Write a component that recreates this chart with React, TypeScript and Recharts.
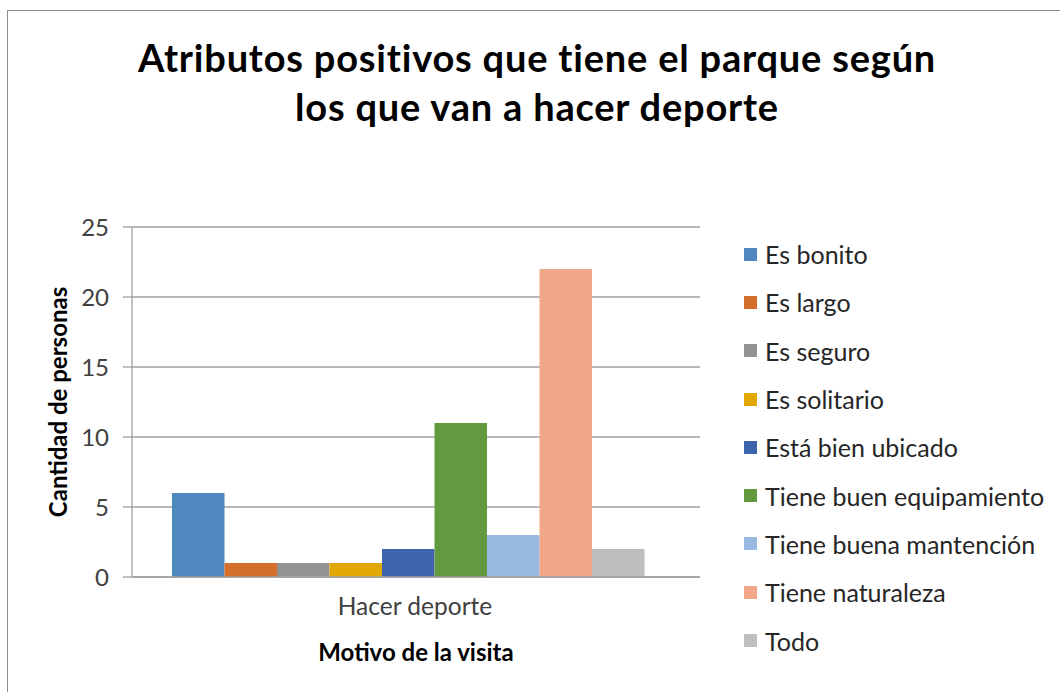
import React from "react";
import { BarChart, Bar, XAxis, YAxis, CartesianGrid, Legend, Label } from "recharts";

const categories = ["Hacer deporte"];
const seriesNames = [
  "Es bonito",
  "Es largo",
  "Es seguro",
  "Es solitario",
  "Está bien ubicado",
  "Tiene buen equipamiento",
  "Tiene buena mantención",
  "Tiene naturaleza",
  "Todo",
];
const seriesValues = [6, 1, 1, 1, 2, 11, 3, 22, 2];
const seriesColors = [
  "#4F88BE",
  "#D46E2B",
  "#929292",
  "#E0A800",
  "#3E64AC",
  "#649A3F",
  "#99B9E0",
  "#F0A889",
  "#BEBEBE",
];
const yTicks = [0, 5, 10, 15, 20, 25];

const data = categories.map((c) => {
  const row: Record<string, string | number> = { name: c };
  seriesNames.forEach((s, i) => {
    row[s] = seriesValues[i];
  });
  return row;
});

const FONT = "Lato, 'Open Sans', sans-serif";

const renderLegend = (props: any) => {
  const { payload } = props;
  return (
    <div style={{ width: 320, fontFamily: FONT }}>
      {payload.map((entry: any) => (
        <div
          key={entry.value}
          style={{ display: "flex", alignItems: "center", height: 48.3, fontSize: 25, color: "#262626" }}
        >
          <span
            style={{ display: "inline-block", width: 13, height: 13, background: entry.color, marginRight: 8 }}
          />
          <span>{entry.value}</span>
        </div>
      ))}
    </div>
  );
};

export default function App() {
  return (
    <div
      style={{
        position: "absolute",
        left: 0,
        top: 0,
        width: 1060,
        height: 692,
        overflow: "hidden",
        background: "#fff",
        fontFamily: FONT,
      }}
    >
      <div
        style={{
          position: "absolute",
          left: 7,
          top: 10,
          width: 1100,
          height: 800,
          border: "1px solid #8c8c8c",
        }}
      />
      <div
        style={{
          position: "absolute",
          left: 0,
          top: 33,
          width: 1074,
          textAlign: "center",
          fontWeight: 700,
          fontSize: 38,
          letterSpacing: 0.8,
          lineHeight: "49px",
          color: "#000",
        }}
      >
        Atributos positivos que tiene el parque según
        <br />
        los que van a hacer deporte
      </div>
      <div style={{ position: "absolute", left: 0, top: 0 }}>
        <BarChart
          width={1060}
          height={692}
          data={data}
          margin={{ top: 227, right: 40, bottom: 55, left: 40 }}
          barSize={52.5}
          barGap={0}
        >
          <CartesianGrid vertical={false} stroke="#A0A0A0" strokeWidth={1.3} />
          <XAxis
            dataKey="name"
            height={60}
            padding={{ left: 0, right: 16 }}
            axisLine={{ stroke: "#A0A0A0", strokeWidth: 1.3 }}
            tickLine={false}
            tick={{ fontSize: 24.5, fill: "#404040", fontFamily: FONT, dx: 7 }}
            tickMargin={15}
          >
            <Label
              value="Motivo de la visita"
              position="insideBottom"
              offset={-24}
              style={{ fontSize: 24, fontWeight: 700, fill: "#000", fontFamily: FONT }}
            />
          </XAxis>
          <YAxis
            domain={[0, 25]}
            ticks={yTicks}
            width={92}
            axisLine={{ stroke: "#A0A0A0", strokeWidth: 1.3 }}
            tickLine={{ stroke: "#A0A0A0", strokeWidth: 1.3 }}
            tickSize={9}
            tickMargin={14}
            tick={{ fontSize: 24, fill: "#404040", fontFamily: FONT }}
            interval={0}
          >
            <Label
              value="Cantidad de personas"
              angle={-90}
              position="insideLeft"
              offset={18}
              style={{ fontSize: 24, fontWeight: 700, fill: "#000", fontFamily: FONT, textAnchor: "middle" }}
            />
          </YAxis>
          <Legend
            layout="vertical"
            align="right"
            verticalAlign="top"
            content={renderLegend}
            wrapperStyle={{ top: 230, right: -4, width: 320 }}
          />
          {seriesNames.map((s, i) => (
            <Bar key={s} dataKey={s} fill={seriesColors[i]} isAnimationActive={false} />
          ))}
        </BarChart>
      </div>
    </div>
  );
}
